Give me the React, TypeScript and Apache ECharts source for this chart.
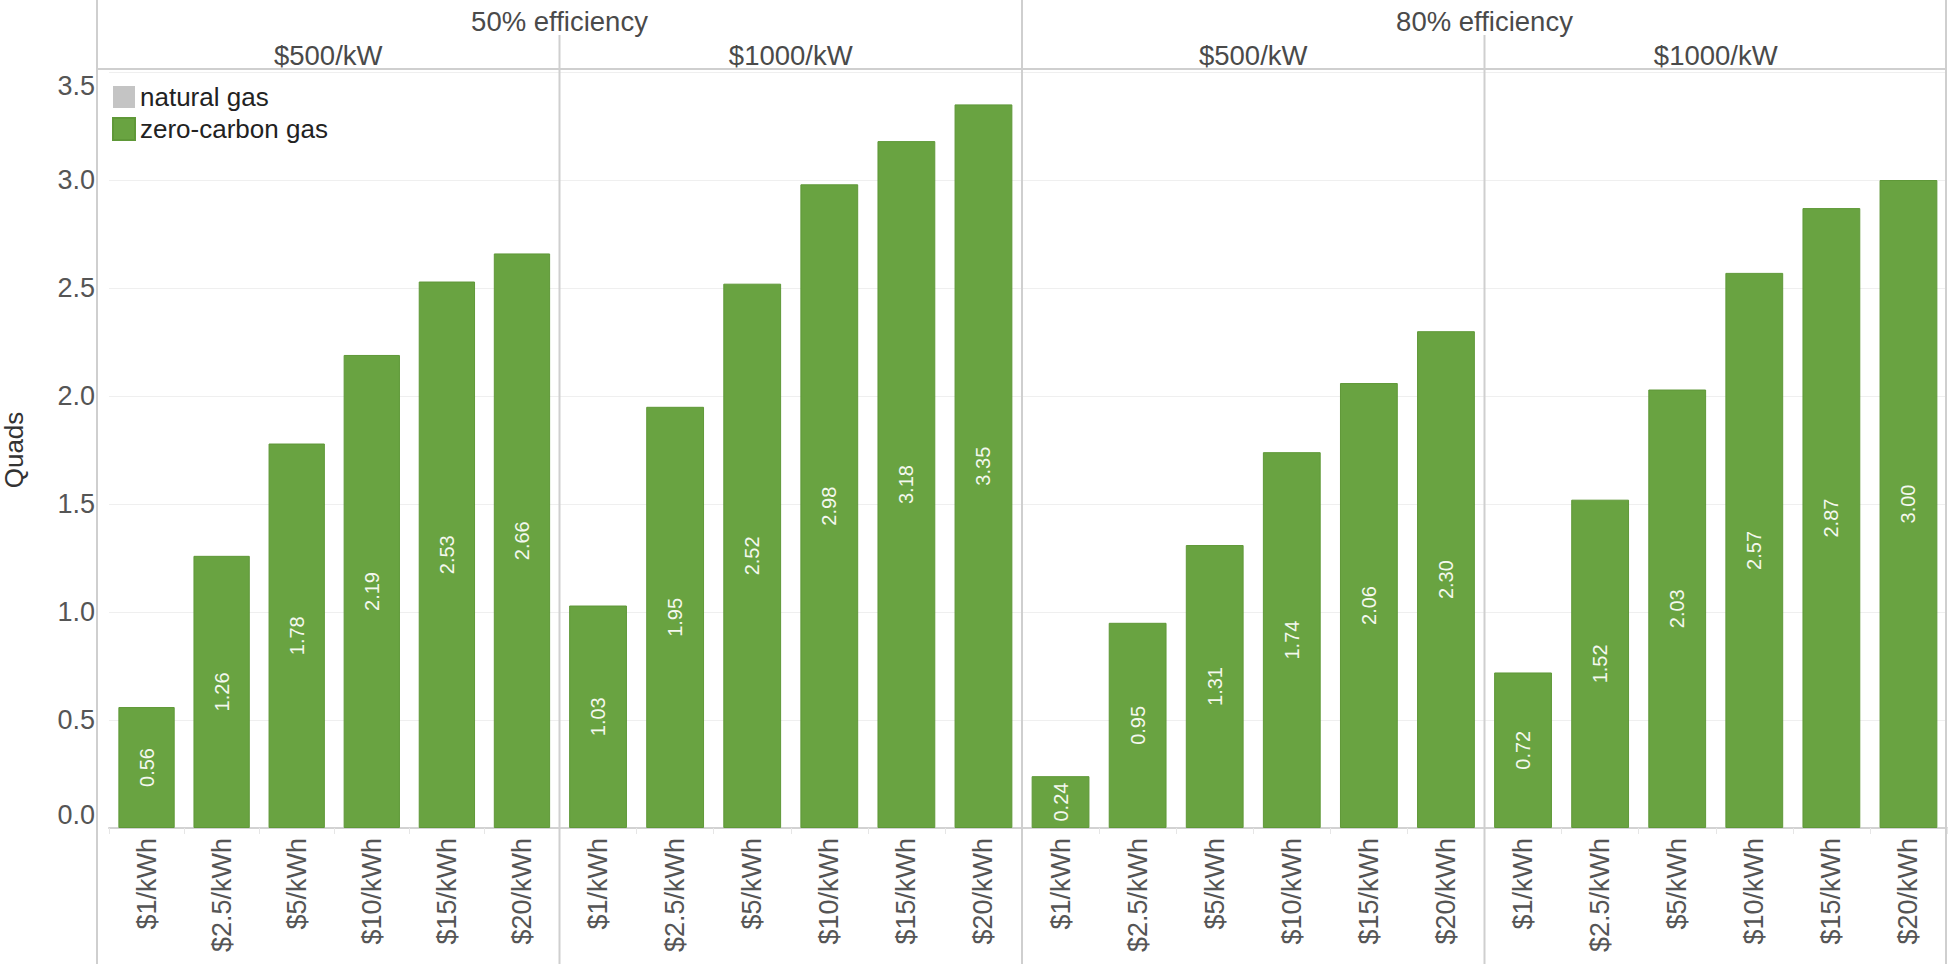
import React, { useEffect, useRef } from "react";
import * as echarts from "echarts";

const categories = ["$1/kWh", "$2.5/kWh", "$5/kWh", "$10/kWh", "$15/kWh", "$20/kWh"];
const eff50Cap500 = [0.56, 1.26, 1.78, 2.19, 2.53, 2.66];
const eff50Cap1000 = [1.03, 1.95, 2.52, 2.98, 3.18, 3.35];
const eff80Cap500 = [0.24, 0.95, 1.31, 1.74, 2.06, 2.3];
const eff80Cap1000 = [0.72, 1.52, 2.03, 2.57, 2.87, 3.0];
const naturalGas = [0, 0, 0, 0, 0, 0];
const efficiencyLabels = ["50% efficiency", "80% efficiency"];
const capacityLabels = ["$500/kW", "$1000/kW"];
const facetValues = [eff50Cap500, eff50Cap1000, eff80Cap500, eff80Cap1000];

const FONT = "'Liberation Sans', Arial, sans-serif";
const GREEN = "#69a341";
const GRAY = "#c4c4c4";
const LINE = "#cfcfcf";

export default function App() {
  const ref = useRef<HTMLDivElement>(null);
  useEffect(() => {
    if (!ref.current) return;
    const chart = echarts.init(ref.current, undefined, { renderer: "svg" });
    const left0 = 97;
    const facetW = 462.5;
    const top = 72;
    const bottom = 828;
    const H = 964;

    const grids = facetValues.map((_, i) => ({
      left: left0 + i * facetW,
      width: facetW,
      top: top,
      height: bottom - top,
      containLabel: false,
    }));
    const xAxes = facetValues.map((_, i) => ({
      type: "category",
      gridIndex: i,
      data: categories,
      axisLine: { show: true, lineStyle: { color: "#d2d2d2", width: 2 } },
      axisTick: { show: true, length: 6, lineStyle: { color: "#e6e6e6" } },
      axisLabel: {
        rotate: 90,
        margin: 10,
        fontSize: 27,
        fontFamily: FONT,
        color: "#555",
        interval: 0,
      },
    }));
    const yAxes = facetValues.map((_, i) => ({
      type: "value",
      gridIndex: i,
      min: 0,
      max: 3.5,
      interval: 0.5,
      name: i === 0 ? "Quads" : "",
      nameLocation: "middle",
      nameRotate: 90,
      nameGap: 82,
      nameTextStyle: { fontSize: 26, fontFamily: FONT, color: "#333" },
      axisLine: { show: false },
      axisTick: { show: false },
      splitLine: { show: true, lineStyle: { color: "#efefef", width: 1 } },
      axisLabel: {
        show: i === 0,
        margin: 14,
        fontSize: 27,
        fontFamily: FONT,
        color: "#555",
        formatter: (v: number) => v.toFixed(1),
        verticalAlignMaxLabel: "top",
        verticalAlignMinLabel: "bottom",
      },
    }));

    const series: any[] = facetValues.map((vals, i) => ({
      type: "bar",
      name: "zero-carbon gas",
      xAxisIndex: i,
      yAxisIndex: i,
      stack: "s" + i,
      data: vals,
      barCategoryGap: "25%",
      itemStyle: { color: GREEN, borderColor: "#5f9838", borderWidth: 1 },
      label: {
        show: true,
        position: "inside",
        rotate: 90,
        color: "#f4f8ee",
        fontSize: 20,
        fontFamily: FONT,
        formatter: (p: any) => Number(p.value).toFixed(2),
      },
    }));
    series.unshift({
      type: "bar",
      name: "natural gas",
      xAxisIndex: 0,
      yAxisIndex: 0,
      stack: "s0",
      data: naturalGas,
      barCategoryGap: "25%",
      itemStyle: { color: GRAY },
      label: { show: false },
    });

    const graphic: any[] = [];
    const vline = (x: number, y1: number) =>
      graphic.push({
        type: "line",
        silent: true,
        z: 10,
        shape: { x1: x, y1, x2: x, y2: H },
        style: { stroke: LINE, lineWidth: 2 },
      });
    vline(left0, 0);
    vline(left0 + 2 * facetW, 0);
    vline(left0 + 4 * facetW - 1, 0);
    vline(left0 + facetW, 35);
    vline(left0 + 3 * facetW, 35);
    graphic.push({
      type: "line",
      silent: true,
      z: 10,
      shape: { x1: left0, y1: 69, x2: left0 + 4 * facetW, y2: 69 },
      style: { stroke: LINE, lineWidth: 2 },
    });
    const text = (t: string, x: number, y: number) =>
      graphic.push({
        type: "text",
        silent: true,
        z: 10,
        x,
        y,
        style: {
          text: t,
          fontSize: 27.5,
          fontFamily: FONT,
          fill: "#4a4a4a",
          align: "center",
          verticalAlign: "middle",
          textAlign: "center",
          textVerticalAlign: "middle",
        },
      });
    efficiencyLabels.forEach((t, i) => text(t, left0 + (2 * i + 1) * facetW, 21));
    for (let i = 0; i < 4; i++) {
      text(capacityLabels[i % 2], left0 + (i + 0.5) * facetW, 55);
    }

    chart.setOption({
      animation: false,
      backgroundColor: "#ffffff",
      grid: grids,
      xAxis: xAxes,
      yAxis: yAxes,
      legend: {
        data: ["natural gas", "zero-carbon gas"],
        orient: "vertical",
        left: 112,
        top: 84,
        icon: "rect",
        itemWidth: 22,
        itemHeight: 22,
        itemGap: 6,
        padding: 0,
        selectedMode: false,
        textStyle: { fontSize: 26, fontFamily: FONT, color: "#222", lineHeight: 22, padding: [0, 0, 0, 0] },
      },
      series,
      graphic,
    });
    return () => chart.dispose();
  }, []);
  return (
    <div
      ref={ref}
      style={{ position: "fixed", left: 0, top: 0, width: 1950, height: 964, background: "#fff" }}
    />
  );
}
